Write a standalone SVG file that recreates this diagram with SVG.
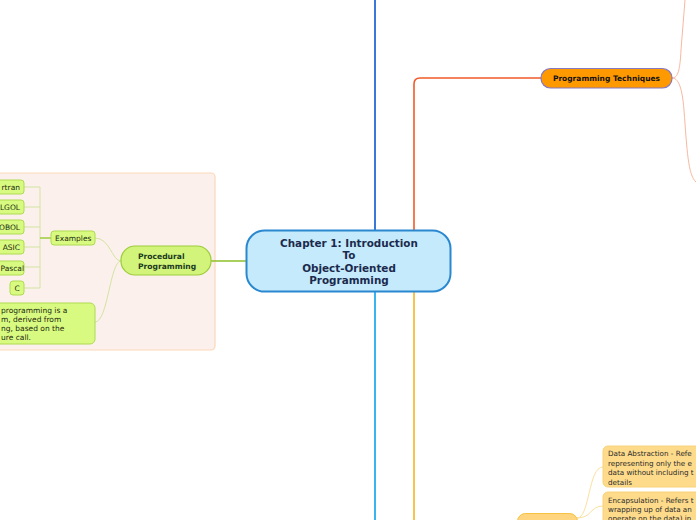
<svg xmlns="http://www.w3.org/2000/svg" width="696" height="520" viewBox="0 0 696 520">
<style>
text{font-family:"DejaVu Sans",Verdana,sans-serif}
.leaf{fill:#d8fa80;stroke:#aedb50;stroke-width:1}
.lt{font-size:7.5px;fill:#1e2a10}
.lc{fill:none;stroke:#d3e4a2;stroke-width:1}
.yc{fill:none;stroke:#fbe0a0;stroke-width:1}
.oc{fill:none;stroke:#f8b8a0;stroke-width:1}
.note{fill:#fddb8a;stroke:#f8d27a;stroke-width:1}
.nt{font-size:7.2px;fill:#2a2a2a}
.ct{font-size:10.4px;font-weight:bold;fill:#1b2a4e}
</style>
<rect x="-10" y="173" width="225" height="177" rx="4" fill="#fbf0ec" stroke="#fbd8b8" stroke-width="1.2"/>
<g id="connectors">
<path d="M375 0V230" stroke="#3a78d8" stroke-width="2" fill="none"/>
<path d="M375 292V520" stroke="#3ab4f0" stroke-width="2" fill="none"/>
<path d="M414 230V84Q414 78 420 78H541" stroke="#f05a28" stroke-width="1.6" fill="none"/>
<path d="M414 292V520" stroke="#f5b520" stroke-width="1.6" fill="none"/>
<path d="M246 261H211" stroke="#8cbf26" stroke-width="1.6" fill="none"/>
<path class="lc" d="M121 261C112 261 110 238 95 238"/>
<path class="lc" d="M121 261C110 261 108 322 95 322"/>
<path class="lc" d="M24 187H40V288H24M24 207H40M24 227H40M24 247H40M24 267H40"/>
<path d="M40 238H51" stroke="#9ccc3c" stroke-width="1.5" fill="none"/>
<path class="oc" d="M672 78C678 78 680 70 681 50L685 0"/>
<path class="oc" d="M672 78C678 78 682 86 684 110C687 150 688 175 696 182"/>
<path class="yc" d="M577 518C590 518 588 467 603 467"/>
<path class="yc" d="M577 518C592 518 590 506 603 506"/>
</g>
<g id="center">
<rect x="246.5" y="230.5" width="204" height="61" rx="18" fill="#c5eafb" stroke="#2a88d0" stroke-width="2"/>
<text class="ct" x="349" y="246.5" text-anchor="middle">Chapter 1: Introduction</text>
<text class="ct" x="349" y="258.5" text-anchor="middle">To</text>
<text class="ct" x="349" y="271.5" text-anchor="middle">Object-Oriented</text>
<text class="ct" x="349" y="283.5" text-anchor="middle">Programming</text>
</g>
<g id="techniques">
<rect x="541" y="68.5" width="131" height="19.5" rx="9.5" fill="#ff9900" stroke="#8878c0" stroke-width="1.2"/>
<text x="606.5" y="81" text-anchor="middle" font-size="7.5" font-weight="bold" fill="#111">Programming Techniques</text>
</g>
<g id="procedural">
<rect x="121" y="246" width="90" height="29" rx="14" fill="#d2f47a" stroke="#9ccc3c" stroke-width="1.2"/>
<text x="138" y="259" font-size="7.6" font-weight="bold" fill="#1c3a20">Procedural</text>
<text x="138" y="268.5" font-size="7.6" font-weight="bold" fill="#1c3a20">Programming</text>
</g>
<g id="examples">
<rect class="leaf" x="51" y="231" width="44" height="14" rx="3"/>
<text class="lt" x="55" y="241">Examples</text>
</g>
<g id="fortran"><rect class="leaf" x="-10" y="180" width="34" height="14" rx="3"/><text class="lt" x="20" y="190" text-anchor="end">rtran</text></g>
<g id="algol"><rect class="leaf" x="-10" y="200" width="34" height="14" rx="3"/><text class="lt" x="20" y="210" text-anchor="end">LGOL</text></g>
<g id="cobol"><rect class="leaf" x="-10" y="220" width="34" height="14" rx="3"/><text class="lt" x="20" y="230" text-anchor="end">OBOL</text></g>
<g id="basic"><rect class="leaf" x="-10" y="240" width="34" height="14" rx="3"/><text class="lt" x="20" y="250" text-anchor="end">ASIC</text></g>
<g id="pascal"><rect class="leaf" x="-10" y="261" width="34" height="14" rx="3"/><text class="lt" x="0.5" y="271" font-size="7.2">Pascal</text></g>
<g id="c"><rect class="leaf" x="10" y="281" width="14" height="14" rx="3"/><text class="lt" x="17" y="291" text-anchor="middle">C</text></g>
<g id="definition">
<rect class="leaf" x="-10" y="303" width="105" height="41" rx="5"/>
<text class="lt" x="1" y="313">programming is a</text>
<text class="lt" x="1" y="322">m, derived from</text>
<text class="lt" x="1" y="331">ng, based on the</text>
<text class="lt" x="1" y="340">ure call.</text>
</g>
<g id="oop-node">
<rect x="517.5" y="513.5" width="60" height="20" rx="8" fill="#ffd580" stroke="#f6c040" stroke-width="1"/>
</g>
<g id="abstraction">
<rect class="note" x="603" y="446" width="110" height="41" rx="5"/>
<text class="nt" x="608" y="456">Data Abstraction - Refe</text>
<text class="nt" x="608" y="465.5">representing only the e</text>
<text class="nt" x="608" y="475">data without including t</text>
<text class="nt" x="608" y="484.5">details</text>
</g>
<g id="encapsulation">
<rect class="note" x="603" y="492" width="110" height="40" rx="5"/>
<text class="nt" x="608" y="503">Encapsulation - Refers t</text>
<text class="nt" x="608" y="512">wrapping up of data an</text>
<text class="nt" x="608" y="520.5">operate on the data) in</text>
</g>
</svg>
